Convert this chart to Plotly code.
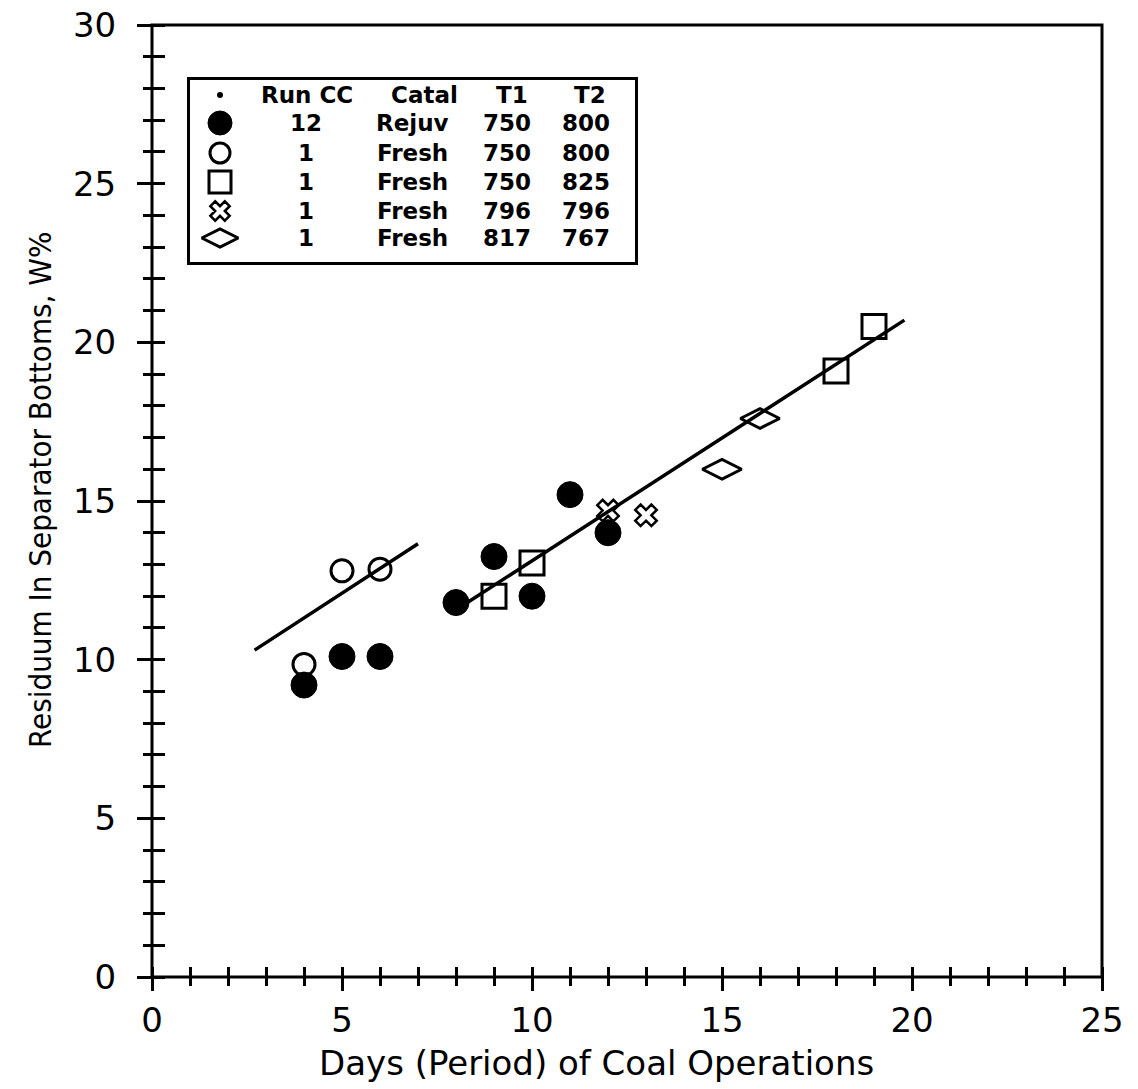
import plotly.graph_objects as go

# ---------------- data ----------------
rejuv_x = [4, 5, 6, 8, 9, 10, 11, 12]
rejuv_y = [9.2, 10.1, 10.1, 11.8, 13.25, 12.0, 15.2, 14.0]

fresh800_x = [4, 5, 6]
fresh800_y = [9.85, 12.8, 12.85]

fresh825_x = [9, 10, 18, 19]
fresh825_y = [12.0, 13.05, 19.1, 20.5]

fresh796_x = [12, 13]
fresh796_y = [14.7, 14.55]

fresh767_x = [15, 16]
fresh767_y = [16.0, 17.6]

fit1_x = [2.7, 7.0]
fit1_y = [10.3, 13.65]
fit2_x = [8.3, 19.8]
fit2_y = [11.8, 20.7]

legend_header = ["Run CC", "Catal", "T1", "T2"]
legend_run = ["12", "1", "1", "1", "1"]
legend_catal = ["Rejuv", "Fresh", "Fresh", "Fresh", "Fresh"]
legend_t1 = ["750", "750", "750", "796", "817"]
legend_t2 = ["800", "800", "825", "796", "767"]

x_ticks = [0, 5, 10, 15, 20, 25]
y_ticks = [0, 5, 10, 15, 20, 25, 30]

# ---------------- styles ----------------
BLACK = "black"
TICKFONT = dict(family="DejaVu Sans", size=34, color=BLACK)
LEGFONT = dict(family="DejaVu Sans", size=23, color=BLACK, weight="bold")

series_styles = [
    dict(symbol="circle", size=26, color=BLACK, line=dict(width=1, color=BLACK)),
    dict(symbol="circle-open", size=22, color=BLACK, line=dict(width=3, color=BLACK)),
    dict(symbol="square-open", size=24, color=BLACK, line=dict(width=3, color=BLACK)),
    dict(symbol="x-open", size=19, color=BLACK, line=dict(width=2.5, color=BLACK)),
    dict(symbol="diamond-wide-open", size=28, color=BLACK, line=dict(width=3, color=BLACK)),
]
series = [
    (rejuv_x, rejuv_y),
    (fresh800_x, fresh800_y),
    (fresh825_x, fresh825_y),
    (fresh796_x, fresh796_y),
    (fresh767_x, fresh767_y),
]

fig = go.Figure()

for fx, fy in [(fit1_x, fit1_y), (fit2_x, fit2_y)]:
    fig.add_trace(go.Scatter(x=fx, y=fy, mode="lines",
                             line=dict(color=BLACK, width=3.5),
                             showlegend=False, hoverinfo="skip"))

for (sx, sy), st in zip(series, series_styles):
    fig.add_trace(go.Scatter(x=sx, y=sy, mode="markers", marker=st,
                             showlegend=False))

# ---------------- legend table on its own small axes ----------------
box_l, box_r, box_t, box_b = 190, 635, 80, 262
sym_col = 30
head_cols = [117, 234, 322, 400]
val_cols = [116, 222, 317, 396]
row_header = 15
row_pos = [43, 73, 102, 131, 158]

for i, st in enumerate(series_styles):
    m = dict(st)
    m["size"] = st["size"] - 2
    fig.add_trace(go.Scatter(x=[sym_col], y=[row_pos[i]], mode="markers",
                             marker=m, xaxis="x2", yaxis="y2",
                             showlegend=False, hoverinfo="skip"))
fig.add_trace(go.Scatter(x=[sym_col], y=[row_header], mode="markers",
                         marker=dict(symbol="circle", size=6, color=BLACK),
                         xaxis="x2", yaxis="y2", showlegend=False, hoverinfo="skip"))

annotations = []
for col, txt in zip(head_cols, legend_header):
    annotations.append(dict(x=col, y=row_header, xref="x2", yref="y2", text=txt,
                            showarrow=False, font=LEGFONT))
for i in range(len(legend_run)):
    for col, arr in zip(val_cols, [legend_run, legend_catal, legend_t1, legend_t2]):
        annotations.append(dict(x=col, y=row_pos[i], xref="x2", yref="y2",
                                text=arr[i], showarrow=False, font=LEGFONT))

# ---------------- layout ----------------
W, H = 1138, 1089
ml, mr, mt, mb = 152, 36, 25, 112
pw, ph = W - ml - mr, H - mt - mb

annotations.append(dict(x=(596 - ml) / pw, y=-(1063 - (H - mb)) / ph,
                        xref="paper", yref="paper", text="Days (Period) of Coal Operations",
                        showarrow=False, xanchor="center", yanchor="middle",
                        font=dict(family="DejaVu Sans", size=34, color=BLACK)))
annotations.append(dict(x=-(ml - 40) / pw, y=(H - mb - 490) / ph,
                        xref="paper", yref="paper", text="Residuum In Separator Bottoms, W%",
                        showarrow=False, textangle=-90, xanchor="center", yanchor="middle",
                        font=dict(family="DejaVu Sans Condensed, Liberation Sans Narrow, DejaVu Sans",
                                  size=31, color=BLACK)))

# ticks cross the frame: the tick axes sit a few pixels inside the frame
x_in, y_in = 11, 13   # px of tick inside the frame

fig.update_layout(
    width=W, height=H,
    margin=dict(l=ml, r=mr, t=mt, b=mb, autoexpand=False),
    paper_bgcolor="white", plot_bgcolor="white",
    annotations=annotations,
    shapes=[dict(type="rect", xref="paper", yref="paper", x0=0, x1=1, y0=0, y1=1,
                 line=dict(color=BLACK, width=3), layer="above")],
    xaxis=dict(range=[0, 25], showgrid=False, zeroline=False,
               anchor="free", position=x_in / ph,
               tickmode="array", tickvals=x_ticks, ticktext=[str(v) for v in x_ticks],
               ticks="outside", ticklen=x_in + 13, tickwidth=2.5, tickcolor=BLACK,
               minor=dict(ticks="outside", dtick=1, ticklen=x_in + 8, tickwidth=2.5,
                          tickcolor=BLACK),
               showline=False, tickfont=TICKFONT, ticklabelstandoff=0),
    yaxis=dict(range=[0, 30], showgrid=False, zeroline=False,
               anchor="free", position=y_in / pw,
               tickmode="array", tickvals=y_ticks, ticktext=[str(v) for v in y_ticks],
               ticks="outside", ticklen=y_in + 15, tickwidth=2.5, tickcolor=BLACK,
               minor=dict(ticks="outside", dtick=1, ticklen=y_in + 9, tickwidth=2.5,
                          tickcolor=BLACK),
               showline=False, tickfont=TICKFONT, ticklabelstandoff=14),
    xaxis2=dict(domain=[(box_l - ml) / pw, (box_r - ml) / pw], anchor="y2",
                range=[0, box_r - box_l], showgrid=False, zeroline=False,
                showticklabels=False, ticks="", showline=True, linewidth=2.5,
                linecolor=BLACK, mirror=True, fixedrange=True),
    yaxis2=dict(domain=[(H - mb - box_b) / ph, (H - mb - box_t) / ph], anchor="x2",
                range=[box_b - box_t, 0], showgrid=False, zeroline=False,
                showticklabels=False, ticks="", showline=True, linewidth=2.5,
                linecolor=BLACK, mirror=True, fixedrange=True),
    showlegend=False,
)

fig.write_html("out.html")
